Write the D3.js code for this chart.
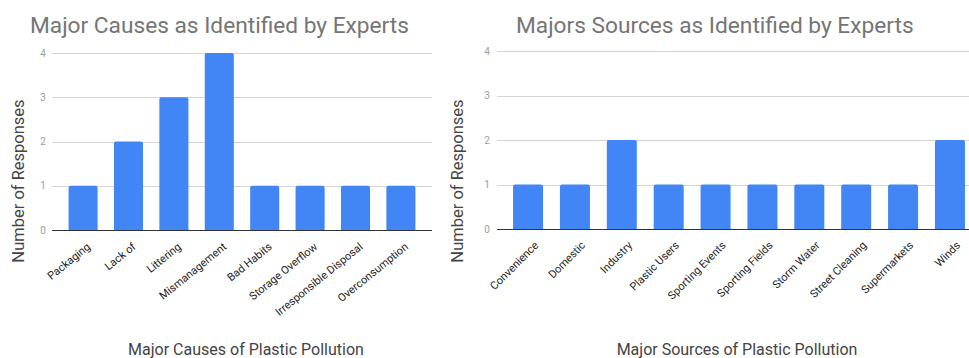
<!DOCTYPE html>
<html>
<head>
<meta charset="utf-8">
<script src="https://cdn.jsdelivr.net/npm/d3@7"></script>
<style>
  html, body { margin: 0; padding: 0; background: #fff; }
  svg { display: block; font-family: Roboto, "Noto Sans", sans-serif; }
</style>
</head>
<body>
<svg id="chart" width="969" height="358"></svg>
<script>
// Causes chart
const causeCategories = ["Packaging", "Lack of", "Littering", "Mismanagement", "Bad Habits",
  "Storage Overflow", "Irresponsible Disposal", "Overconsumption"];
const causeValues = [1, 2, 3, 4, 1, 1, 1, 1];

// Sources chart
const sourceCategories = ["Convenience", "Domestic", "Industry", "Plastic Users", "Sporting Events",
  "Sporting Fields", "Storm Water", "Street Cleaning", "Supermarkets", "Winds"];
const sourceValues = [1, 1, 2, 1, 1, 1, 1, 1, 1, 2];

const yTicks = [0, 1, 2, 3, 4];

const titles = ["Major Causes as Identified by Experts", "Majors Sources as Identified by Experts"];
const xTitles = ["Major Causes of Plastic Pollution", "Major Sources of Plastic Pollution"];
const yTitle = "Number of Responses";

const svg = d3.select("#chart");
const barColor = "#4285f4";

function topRoundedBar(x, y, w, h, r) {
  r = Math.min(r, h, w / 2);
  return `M${x},${y + h}V${y + r}Q${x},${y} ${x + r},${y}H${x + w - r}Q${x + w},${y} ${x + w},${y + r}V${y + h}Z`;
}

function drawChart(cfg) {
  const g = svg.append("g");
  const x = d3.scaleBand().domain(cfg.categories).range(cfg.bandRange)
    .paddingInner(0.36).paddingOuter(cfg.outer);
  const y = d3.scaleLinear().domain([0, 4]).range([cfg.y0, cfg.y4]);

  // gridlines
  g.append("g").selectAll("line").data(yTicks.filter(t => t > 0)).join("line")
    .attr("x1", cfg.gridX[0]).attr("x2", cfg.gridX[1])
    .attr("y1", d => Math.round(y(d)) + 0.5).attr("y2", d => Math.round(y(d)) + 0.5)
    .attr("stroke", "#d4d4d4").attr("stroke-width", 1);

  // y axis tick labels
  const yAxis = d3.axisLeft(y).tickValues(yTicks).tickSize(0).tickPadding(0)
    .tickFormat(d3.format("d"));
  const ya = g.append("g").attr("transform", `translate(${cfg.yLabelX},0)`).call(yAxis);
  ya.select(".domain").remove();
  ya.selectAll("text").attr("fill", "#9e9e9e").attr("font-size", 10)
    .attr("text-anchor", "middle").attr("font-family", "Roboto, sans-serif");

  // bars
  g.append("g").selectAll("path").data(cfg.values).join("path")
    .attr("d", (d, i) => {
      const bx = x(cfg.categories[i]);
      return topRoundedBar(bx, y(d), x.bandwidth(), y(0) - y(d), 2);
    })
    .attr("fill", barColor);

  // baseline
  g.append("line")
    .attr("x1", cfg.gridX[0]).attr("x2", cfg.gridX[1])
    .attr("y1", Math.round(y(0)) + 0.5).attr("y2", Math.round(y(0)) + 0.5)
    .attr("stroke", "#333").attr("stroke-width", 1);

  // category labels, slanted
  const xAxis = d3.axisBottom(x).tickSize(0).tickPadding(0);
  const xa = g.append("g").attr("transform", `translate(0,${cfg.labelY})`).call(xAxis);
  xa.select(".domain").remove();
  xa.selectAll("text")
    .attr("fill", "#222").attr("font-size", cfg.labelSize).attr("font-family", "Roboto, sans-serif")
    .attr("text-anchor", "end").attr("dy", 0).attr("y", 0)
    .attr("x", cfg.labelDx)
    .attr("transform", `rotate(${-cfg.labelAngle} ${cfg.labelDx} 0)`);

  // chart title
  g.append("text").attr("x", cfg.titleX).attr("y", 33)
    .attr("font-size", 22.7).attr("fill", "#757575").text(cfg.title);

  // axis titles
  g.append("text").attr("x", cfg.xTitleX).attr("y", 355).attr("text-anchor", "middle")
    .attr("font-size", 16).attr("fill", "#444").text(cfg.xTitle);
  g.append("text")
    .attr("transform", `translate(${cfg.yTitleX},${cfg.yTitleY}) rotate(-90)`)
    .attr("text-anchor", "middle").attr("font-size", 16.5).attr("fill", "#444").text(yTitle);
}

drawChart({
  categories: causeCategories, values: causeValues,
  bandRange: [52, 432], outer: 0.365, gridX: [52, 432],
  y0: 230, y4: 53, yLabelX: 43,
  labelY: 248, labelDx: 8, labelAngle: 39, labelSize: 11,
  title: titles[0], titleX: 30,
  xTitle: xTitles[0], xTitleX: 246,
  yTitleX: 24, yTitleY: 181
});

drawChart({
  categories: sourceCategories, values: sourceValues,
  bandRange: [499, 979], outer: 0.3, gridX: [497, 969],
  y0: 229, y4: 51, yLabelX: 487,
  labelY: 246, labelDx: 11, labelAngle: 45, labelSize: 11,
  title: titles[1], titleX: 516,
  xTitle: xTitles[1], xTitleX: 737,
  yTitleX: 463, yTitleY: 181
});
</script>
</body>
</html>
